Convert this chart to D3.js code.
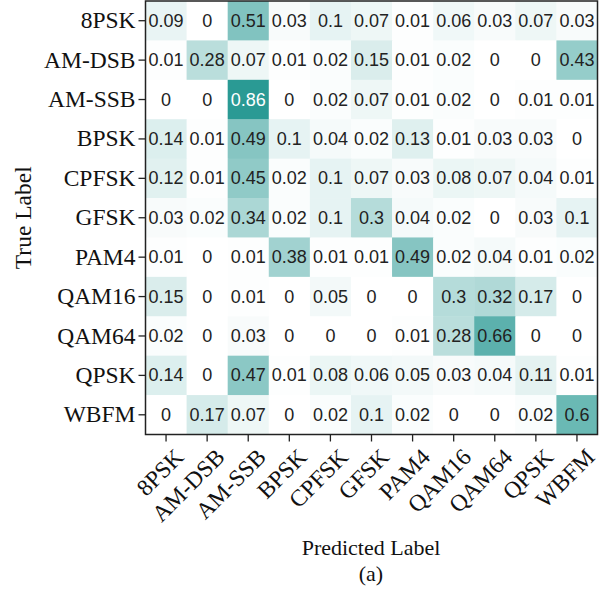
<!DOCTYPE html>
<html><head><meta charset="utf-8">
<script src="https://cdn.jsdelivr.net/npm/d3@7"></script>
<style>body{margin:0;background:#fff}</style>
</head><body>
<svg id="c" width="613" height="595"></svg>
<script>
const categories = ["8PSK","AM-DSB","AM-SSB","BPSK","CPFSK","GFSK","PAM4","QAM16","QAM64","QPSK","WBFM"];
const row8PSK  = [0.09,0,0.51,0.03,0.1,0.07,0.01,0.06,0.03,0.07,0.03];
const rowAMDSB = [0.01,0.28,0.07,0.01,0.02,0.15,0.01,0.02,0,0,0.43];
const rowAMSSB = [0,0,0.86,0,0.02,0.07,0.01,0.02,0,0.01,0.01];
const rowBPSK  = [0.14,0.01,0.49,0.1,0.04,0.02,0.13,0.01,0.03,0.03,0];
const rowCPFSK = [0.12,0.01,0.45,0.02,0.1,0.07,0.03,0.08,0.07,0.04,0.01];
const rowGFSK  = [0.03,0.02,0.34,0.02,0.1,0.3,0.04,0.02,0,0.03,0.1];
const rowPAM4  = [0.01,0,0.01,0.38,0.01,0.01,0.49,0.02,0.04,0.01,0.02];
const rowQAM16 = [0.15,0,0.01,0,0.05,0,0,0.3,0.32,0.17,0];
const rowQAM64 = [0.02,0,0.03,0,0,0,0.01,0.28,0.66,0,0];
const rowQPSK  = [0.14,0,0.47,0.01,0.08,0.06,0.05,0.03,0.04,0.11,0.01];
const rowWBFM  = [0,0.17,0.07,0,0.02,0.1,0.02,0,0,0.02,0.6];
const matrix = [row8PSK,rowAMDSB,rowAMSSB,rowBPSK,rowCPFSK,rowGFSK,rowPAM4,rowQAM16,rowQAM64,rowQPSK,rowWBFM];
const xTitle = "Predicted Label", yTitle = "True Label", caption = "(a)";

const serif = "'Liberation Serif', 'Times New Roman', serif";
const sans = "'Liberation Sans', Arial, sans-serif";
const svg = d3.select("#c");
const L = 145.5, R = 597.5, T = 1, B = 434.5;
const x = d3.scaleBand().domain(categories).range([L, R]);
const y = d3.scaleBand().domain(categories).range([T, B]);
const color = d3.scaleLinear().domain([0, 0.86]).range(["#ffffff", "#2a9a94"]).clamp(true);

const cells = [];
matrix.forEach((r, i) => r.forEach((v, j) => cells.push({t: categories[i], p: categories[j], v})));

svg.append("g").selectAll("rect").data(cells).join("rect")
  .attr("x", d => x(d.p)).attr("y", d => y(d.t))
  .attr("width", x.bandwidth()+0.5).attr("height", y.bandwidth()+0.5)
  .attr("fill", d => color(d.v));

svg.append("g").selectAll("text").data(cells).join("text")
  .attr("x", d => x(d.p) + x.bandwidth()/2)
  .attr("y", d => y(d.t) + y.bandwidth()/2 + 6)
  .attr("text-anchor", "middle")
  .style("font-family", sans).style("font-size", "18px")
  .attr("fill", d => d.v > 0.7 ? "#ffffff" : "#222222")
  .text(d => String(d.v));

svg.append("rect").attr("x", L).attr("y", T).attr("width", R-L).attr("height", B-T)
  .attr("fill", "none").attr("stroke", "#222").attr("stroke-width", 1.5);

const ax = svg.append("g").attr("transform", `translate(0,${B})`)
  .call(d3.axisBottom(x).tickSize(7));
ax.select(".domain").remove();
ax.selectAll("line").attr("stroke", "#222").attr("stroke-width", 1.3);
ax.selectAll("text")
  .style("font-family", serif).style("font-size", "23.5px").attr("fill", "#111")
  .attr("text-anchor", "end").attr("x", 0).attr("y", 0).attr("dy", 0)
  .attr("transform", "translate(19,24) rotate(-45)");

const ay = svg.append("g").attr("transform", `translate(${L},0)`)
  .call(d3.axisLeft(y).tickSize(7).tickPadding(3));
ay.select(".domain").remove();
ay.selectAll("line").attr("stroke", "#222").attr("stroke-width", 1.3);
ay.selectAll("text")
  .style("font-family", serif).style("font-size", "23.5px").attr("fill", "#111");

svg.append("text").attr("x", 371).attr("y", 555).attr("text-anchor", "middle")
  .style("font-family", serif).style("font-size", "22px").attr("fill", "#111")
  .text(xTitle);
svg.append("text").attr("x", 371).attr("y", 581).attr("text-anchor", "middle")
  .style("font-family", serif).style("font-size", "22px").attr("fill", "#111")
  .text(caption);
svg.append("text").attr("transform", `translate(31,${(T+B)/2}) rotate(-90)`).attr("text-anchor", "middle")
  .style("font-family", serif).style("font-size", "23.5px").attr("fill", "#111")
  .text(yTitle);
</script>
</body></html>
